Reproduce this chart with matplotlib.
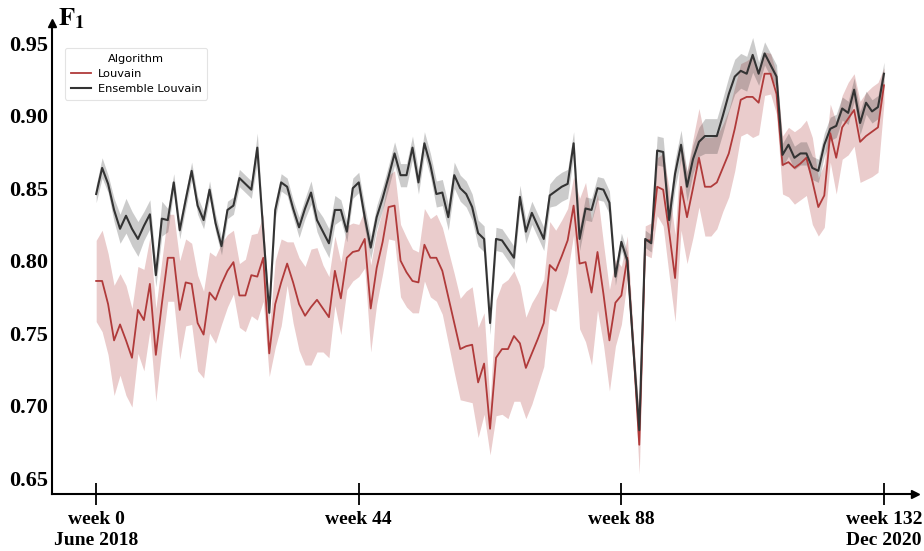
import matplotlib
matplotlib.use("Agg")
import matplotlib.pyplot as plt
import numpy as np

plt.rcParams["mathtext.fontset"] = "stix"

weeks = np.arange(133)

# mean F1 per week
louvain = [
    0.786, 0.786, 0.770, 0.745, 0.756, 0.745, 0.733, 0.766, 0.759, 0.784,
    0.735, 0.770, 0.802, 0.802, 0.766, 0.785, 0.784, 0.757, 0.749, 0.778,
    0.773, 0.784, 0.793, 0.799, 0.776, 0.776, 0.790, 0.789, 0.802, 0.736,
    0.770, 0.785, 0.798, 0.785, 0.770, 0.762, 0.768, 0.773, 0.767, 0.761,
    0.793, 0.774, 0.802, 0.806, 0.807, 0.815, 0.767, 0.795, 0.813, 0.837,
    0.838, 0.800, 0.792, 0.786, 0.785, 0.811, 0.802, 0.802, 0.793, 0.775,
    0.757, 0.739, 0.741, 0.742, 0.716, 0.729, 0.684, 0.733, 0.739, 0.739,
    0.748, 0.743, 0.726, 0.736, 0.746, 0.757, 0.797, 0.793, 0.803, 0.814,
    0.838, 0.798, 0.799, 0.778, 0.806, 0.777, 0.745, 0.771, 0.776, 0.802,
    0.740, 0.673, 0.814, 0.814, 0.851, 0.849, 0.820, 0.788, 0.851, 0.830,
    0.850, 0.871, 0.851, 0.851, 0.854, 0.864, 0.874, 0.891, 0.911, 0.913,
    0.913, 0.909, 0.929, 0.929, 0.915, 0.866, 0.868, 0.864, 0.867, 0.871,
    0.855, 0.837, 0.845, 0.888, 0.871, 0.892, 0.898, 0.904, 0.882, 0.886,
    0.889, 0.892, 0.921,
]
ensemble = [
    0.846, 0.864, 0.853, 0.835, 0.822, 0.831, 0.822, 0.815, 0.824, 0.832,
    0.790, 0.829, 0.828, 0.854, 0.821, 0.842, 0.862, 0.838, 0.828, 0.849,
    0.826, 0.810, 0.835, 0.838, 0.857, 0.853, 0.849, 0.878, 0.820, 0.764,
    0.835, 0.854, 0.851, 0.836, 0.823, 0.836, 0.847, 0.828, 0.820, 0.812,
    0.835, 0.835, 0.820, 0.850, 0.854, 0.830, 0.809, 0.830, 0.843, 0.858,
    0.874, 0.859, 0.859, 0.878, 0.854, 0.881, 0.866, 0.846, 0.847, 0.830,
    0.859, 0.850, 0.846, 0.837, 0.819, 0.815, 0.757, 0.815, 0.814, 0.808,
    0.802, 0.844, 0.820, 0.833, 0.824, 0.815, 0.845, 0.848, 0.851, 0.853,
    0.881, 0.815, 0.836, 0.835, 0.850, 0.849, 0.840, 0.789, 0.813, 0.800,
    0.740, 0.683, 0.815, 0.812, 0.876, 0.875, 0.828, 0.860, 0.880, 0.851,
    0.870, 0.882, 0.886, 0.886, 0.886, 0.900, 0.915, 0.927, 0.931, 0.929,
    0.942, 0.929, 0.943, 0.935, 0.927, 0.873, 0.880, 0.871, 0.874, 0.874,
    0.864, 0.862, 0.880, 0.891, 0.893, 0.905, 0.902, 0.918, 0.895, 0.909,
    0.903, 0.906, 0.929,
]

# half width of the confidence band
louvain_ci = [
    0.028, 0.035, 0.035, 0.038, 0.035, 0.038, 0.034, 0.030, 0.035, 0.032,
    0.032, 0.030, 0.030, 0.030, 0.034, 0.030, 0.028, 0.033, 0.030, 0.028,
    0.030, 0.028, 0.025, 0.022, 0.022, 0.025, 0.028, 0.030, 0.030, 0.016,
    0.030, 0.030, 0.015, 0.028, 0.032, 0.034, 0.040, 0.036, 0.030, 0.028,
    0.024, 0.025, 0.022, 0.020, 0.018, 0.020, 0.030, 0.025, 0.022, 0.022,
    0.024, 0.025, 0.024, 0.022, 0.021, 0.025, 0.027, 0.030, 0.030, 0.032,
    0.034, 0.035, 0.038, 0.040, 0.038, 0.035, 0.018, 0.040, 0.045, 0.048,
    0.045, 0.040, 0.035, 0.035, 0.032, 0.030, 0.030, 0.028, 0.025, 0.022,
    0.020, 0.045, 0.055, 0.050, 0.040, 0.035, 0.035, 0.030, 0.020, 0.015,
    0.010, 0.020, 0.010, 0.012, 0.020, 0.025, 0.030, 0.030, 0.030, 0.032,
    0.034, 0.034, 0.034, 0.034, 0.032, 0.030, 0.030, 0.029, 0.025, 0.025,
    0.028, 0.022, 0.015, 0.014, 0.014, 0.020, 0.024, 0.025, 0.025, 0.026,
    0.030, 0.020, 0.022, 0.020, 0.025, 0.022, 0.025, 0.025, 0.028, 0.030,
    0.031, 0.031, 0.012,
]
ensemble_ci = [
    0.006, 0.007, 0.006, 0.008, 0.010, 0.012, 0.012, 0.012, 0.010, 0.010,
    0.008, 0.012, 0.008, 0.006, 0.006, 0.006, 0.006, 0.006, 0.006, 0.006,
    0.006, 0.006, 0.006, 0.006, 0.006, 0.006, 0.006, 0.010, 0.006, 0.006,
    0.006, 0.006, 0.006, 0.006, 0.007, 0.007, 0.008, 0.008, 0.010, 0.010,
    0.010, 0.007, 0.007, 0.007, 0.007, 0.008, 0.008, 0.008, 0.008, 0.008,
    0.008, 0.008, 0.008, 0.008, 0.008, 0.008, 0.008, 0.009, 0.009, 0.009,
    0.009, 0.009, 0.009, 0.009, 0.009, 0.009, 0.008, 0.008, 0.008, 0.008,
    0.008, 0.008, 0.008, 0.008, 0.008, 0.008, 0.008, 0.010, 0.010, 0.010,
    0.008, 0.008, 0.008, 0.008, 0.008, 0.008, 0.008, 0.006, 0.006, 0.006,
    0.006, 0.006, 0.006, 0.006, 0.010, 0.010, 0.010, 0.010, 0.010, 0.010,
    0.010, 0.010, 0.012, 0.012, 0.012, 0.012, 0.012, 0.012, 0.012, 0.012,
    0.012, 0.008, 0.008, 0.008, 0.008, 0.008, 0.008, 0.008, 0.008, 0.008,
    0.008, 0.008, 0.008, 0.008, 0.008, 0.008, 0.008, 0.008, 0.008, 0.008,
    0.008, 0.008, 0.008,
]

tick_weeks = [0, 44, 88, 132]
tick_labels = ["week 0\nJune 2018", "week 44", "week 88", "week 132\nDec 2020"]
y_ticks = [0.65, 0.70, 0.75, 0.80, 0.85, 0.90, 0.95]

red = "#b03a3a"
dark = "#333333"

fig = plt.figure(figsize=(9.24, 5.51), dpi=100)
ax = fig.add_axes([52 / 924, 57 / 551, 863 / 924, 471 / 551])

louvain = np.array(louvain)
ensemble = np.array(ensemble)
louvain_ci = np.array(louvain_ci)
ensemble_ci = np.array(ensemble_ci)

ax.fill_between(weeks, louvain - louvain_ci, louvain + louvain_ci,
                color=red, alpha=0.26, lw=0)
ax.fill_between(weeks, ensemble - ensemble_ci, ensemble + ensemble_ci,
                color=dark, alpha=0.25, lw=0)
ax.plot(weeks, louvain, color=red, lw=1.3, label="Louvain")
ax.plot(weeks, ensemble, color=dark, lw=1.5, label="Ensemble Louvain")

ax.set_xlim(-7.4, 137.2)
ax.set_ylim(0.639, 0.964)

for side in ["top", "right"]:
    ax.spines[side].set_visible(False)
for side in ["left", "bottom"]:
    ax.spines[side].set_linewidth(1.5)
    ax.spines[side].set_color("black")

# arrow heads on the axes
ax.plot(1, 0, ">k", transform=ax.transAxes, clip_on=False, markersize=6)
ax.plot(0, 1, "^k", transform=ax.transAxes, clip_on=False, markersize=6)

ax.set_xticks(tick_weeks)
ax.set_xticklabels(tick_labels, fontfamily="Liberation Serif",
                   fontweight="bold", fontsize=14, linespacing=1.35)
ax.tick_params(axis="x", direction="inout", length=16, width=1.3, pad=4)

ax.set_yticks(y_ticks)
ax.set_yticklabels([f"{v:.2f}" for v in y_ticks], fontfamily="Liberation Serif",
                   fontweight="bold", fontsize=16)
ax.tick_params(axis="y", length=0, pad=3)

ax.text(0.007, 1.01, r"$\mathbf{F}_{\mathbf{1}}$", transform=ax.transAxes,
        fontsize=19, ha="left", va="center")

leg = ax.legend(title="Algorithm", loc="upper left",
                bbox_to_anchor=(0.015, 0.947), borderaxespad=0,
                fontsize=8.2, title_fontsize=8.2, frameon=True, fancybox=True,
                handlelength=1.8, handletextpad=0.6, borderpad=0.5,
                labelspacing=0.45)
leg.get_frame().set_edgecolor("#dddddd")
leg.get_frame().set_linewidth(0.8)

fig.savefig("out.png", dpi=100)
